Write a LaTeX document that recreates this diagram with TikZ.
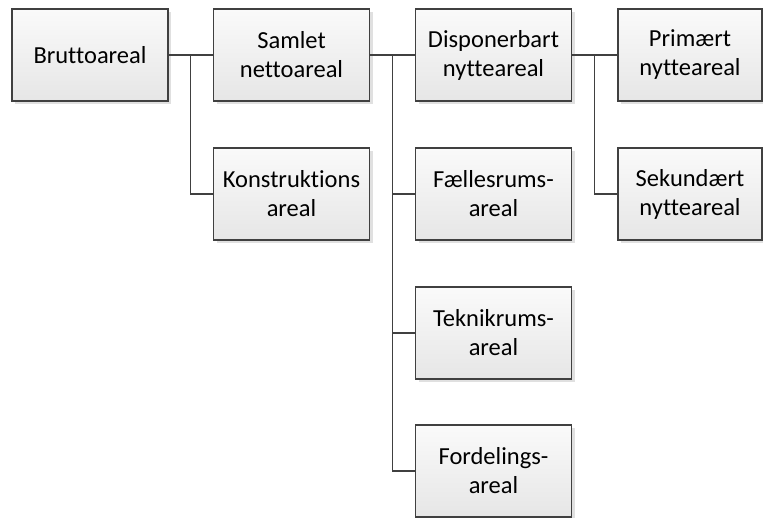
\documentclass[tikz,border=0pt]{standalone}
\usepackage{fontspec}
\setmainfont[Ligatures={NoCommon}]{Carlito}
\usetikzlibrary{calc,shadows}
\definecolor{edge}{HTML}{404040}
\definecolor{boxtop}{HTML}{FAFAFA}
\definecolor{boxbot}{HTML}{E6E6E6}
\begin{document}
\begin{tikzpicture}[x=1pt,y=-1pt,
  areabox/.style={draw=edge, line width=1.1pt, top color=boxtop, bottom color=boxbot,
    minimum width=156pt, minimum height=92pt, inner sep=0pt, align=center,
    font=\fontsize{24.5}{29}\selectfont,
    drop shadow={shadow xshift=3pt, shadow yshift=-3pt, fill=black!12, opacity=1}},
  narrowbox/.style={areabox, minimum width=144pt},
  link/.style={draw=edge, line width=1.1pt}]
\useasboundingbox (0,0) rectangle (763,517);

% column 1
\node[areabox] (brutto) at (90,55) {Bruttoareal};
% column 2
\node[areabox] (samlet) at (291.5,55) {Samlet\\nettoareal};
\node[areabox] (konstr) at (291.5,194) {Konstruktions\\areal};
% column 3
\node[areabox] (dispo) at (493.5,55) {Disponerbart\\nytteareal};
\node[areabox] (faelles) at (493.5,194) {Fællesrums-\\areal};
\node[areabox] (teknik) at (493.5,333) {Teknikrums-\\areal};
\node[areabox] (fordel) at (493.5,471) {Fordelings-\\areal};
% column 4
\node[narrowbox] (prim) at (690,55) {Primært\\nytteareal};
\node[narrowbox] (sekund) at (690,194) {Sekundært\\nytteareal};

% tree connectors
\coordinate (bus1) at ($(brutto.east)!.5!(samlet.west)$);
\coordinate (bus2) at ($(samlet.east)!.5!(dispo.west)$);
\coordinate (bus3) at ($(dispo.east)!.5!(prim.west)$);

\draw[link] (brutto.east) -- (samlet.west);
\draw[link] (bus1) |- (konstr.west);

\draw[link] (samlet.east) -- (dispo.west);
\draw[link] (bus2) |- (faelles.west);
\draw[link] (bus2) |- (teknik.west);
\draw[link] (bus2) |- (fordel.west);

\draw[link] (dispo.east) -- (prim.west);
\draw[link] (bus3) |- (sekund.west);
\end{tikzpicture}
\end{document}
